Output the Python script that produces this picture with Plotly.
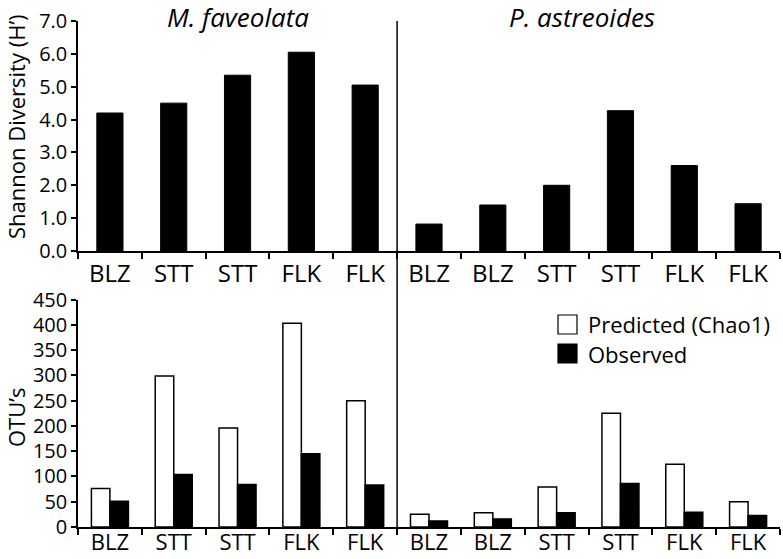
import plotly.graph_objects as go
from plotly.subplots import make_subplots

# ---- data ----
sites = ["BLZ", "STT", "STT", "FLK", "FLK", "BLZ", "BLZ", "STT", "STT", "FLK", "FLK"]
species = ["M. faveolata", "P. astreoides"]
n_mfav = 5
shannon = [4.2, 4.5, 5.35, 6.05, 5.05, 0.82, 1.4, 2.0, 4.27, 2.6, 1.44]
predicted_chao1 = [76, 299, 196, 403, 250, 25, 28, 79, 225, 124, 50]
observed = [51, 104, 84, 145, 83, 12, 16, 28, 86, 29, 23]
shannon_ticks = [0, 1, 2, 3, 4, 5, 6, 7]
otu_ticks = [0, 50, 100, 150, 200, 250, 300, 350, 400, 450]

FONT = "Open Sans"
W, H = 783, 559
ML, MR, MT, MB = 78, 3, 21, 32
PW = W - ML - MR
PH = H - MT - MB

xs = list(range(len(sites)))

fig = make_subplots(rows=2, cols=1, vertical_spacing=0.0)

fig.add_trace(go.Bar(x=xs, y=shannon, width=0.41, offset=-0.205,
                     marker=dict(color="black", line=dict(color="black", width=1)),
                     showlegend=False), row=1, col=1)
fig.add_trace(go.Bar(x=xs, y=predicted_chao1, name="Predicted (Chao1)",
                     marker=dict(color="white", line=dict(color="black", width=1.5)),
                     showlegend=False), row=2, col=1)
fig.add_trace(go.Bar(x=xs, y=observed, name="Observed",
                     marker=dict(color="black", line=dict(color="black", width=1.5)),
                     showlegend=False), row=2, col=1)

def py2paper(py):
    return (H - MB - py) / PH

def px2paper(px):
    return (px - ML) / PW

xaxis_common = dict(
    range=[-0.5, len(sites) - 0.5], tickmode="array", tickvals=xs, ticktext=sites,
    ticks="", showline=True, linecolor="black", linewidth=1.5, showgrid=False,
    zeroline=False, tickfont=dict(family=FONT, size=24, color="black"),
    minor=dict(tickmode="array", tickvals=[i - 0.5 for i in range(len(sites) + 1)],
               ticks="outside", ticklen=6, tickwidth=1.5, tickcolor="black", showgrid=False),
    fixedrange=True, automargin=False,
)
fig.update_xaxes(**xaxis_common)
fig.update_xaxes(domain=[0, 1], row=1, col=1)
fig.update_xaxes(ticklabelstandoff=-5, tickfont=dict(family=FONT, size=22, color="black"),
                 row=2, col=1)

fig.update_yaxes(range=[0, 7], tickmode="array", tickvals=shannon_ticks,
                 ticktext=[f"{v:.1f}" for v in shannon_ticks],
                 domain=[py2paper(251), 1.0], row=1, col=1)
fig.update_yaxes(range=[0, 450], tickmode="array", tickvals=otu_ticks,
                 ticktext=[str(v) for v in otu_ticks],
                 domain=[0, py2paper(299.6)], row=2, col=1)
fig.update_yaxes(showline=True, linecolor="black", linewidth=1.5, showgrid=False,
                 zeroline=False, ticks="outside", ticklen=5, tickwidth=1.5,
                 tickcolor="black", tickfont=dict(family=FONT, size=20, color="black"),
                 automargin=False, fixedrange=True)

shapes = [
    dict(type="line", xref="x", yref="paper", x0=n_mfav - 0.5, x1=n_mfav - 0.5,
         y0=0, y1=1, line=dict(color="black", width=1.5)),
    dict(type="rect", xref="paper", yref="paper", x0=px2paper(558), x1=px2paper(577),
         y0=py2paper(334), y1=py2paper(315), fillcolor="white",
         line=dict(color="black", width=1.2)),
    dict(type="rect", xref="paper", yref="paper", x0=px2paper(558), x1=px2paper(577),
         y0=py2paper(363), y1=py2paper(344), fillcolor="black",
         line=dict(color="black", width=1.2)),
]

annotations = [
    dict(text=f"<i>{species[0]}</i>", xref="paper", yref="paper", x=px2paper(238), y=1,
         xanchor="center", yanchor="middle", yshift=4, showarrow=False,
         font=dict(family=FONT, size=26, color="black")),
    dict(text=f"<i>{species[1]}</i>", xref="paper", yref="paper",
         x=px2paper(582), y=1, xanchor="center", yanchor="middle", yshift=4,
         showarrow=False, font=dict(family=FONT, size=26, color="black")),
    dict(text="Shannon Diversity (H\u2019)", xref="paper", yref="paper", x=px2paper(16),
         y=py2paper(127), textangle=-90, xanchor="center", yanchor="middle",
         showarrow=False, font=dict(family=FONT, size=22, color="black")),
    dict(text="OTU\u2019s", xref="paper", yref="paper", x=px2paper(16),
         y=py2paper(418), textangle=-90, xanchor="center", yanchor="middle",
         showarrow=False, font=dict(family=FONT, size=22, color="black")),
    dict(text="Predicted (Chao1)", xref="paper", yref="paper", x=px2paper(586),
         y=py2paper(324), xanchor="left", yanchor="middle", showarrow=False,
         font=dict(family=FONT, size=22, color="black")),
    dict(text="Observed", xref="paper", yref="paper", x=px2paper(586),
         y=py2paper(354), xanchor="left", yanchor="middle", showarrow=False,
         font=dict(family=FONT, size=22, color="black")),
]

fig.update_layout(
    width=W, height=H, margin=dict(l=ML, r=MR, t=MT, b=MB, autoexpand=False),
    paper_bgcolor="white", plot_bgcolor="white",
    barmode="group", bargap=0.42, bargroupgap=0.0,
    shapes=shapes, annotations=annotations, showlegend=False,
    font=dict(family=FONT, color="black"),
)

fig.write_html("out.html", config={"displayModeBar": False},
               post_script="document.body.style.margin='0';document.body.style.overflow='hidden';")
